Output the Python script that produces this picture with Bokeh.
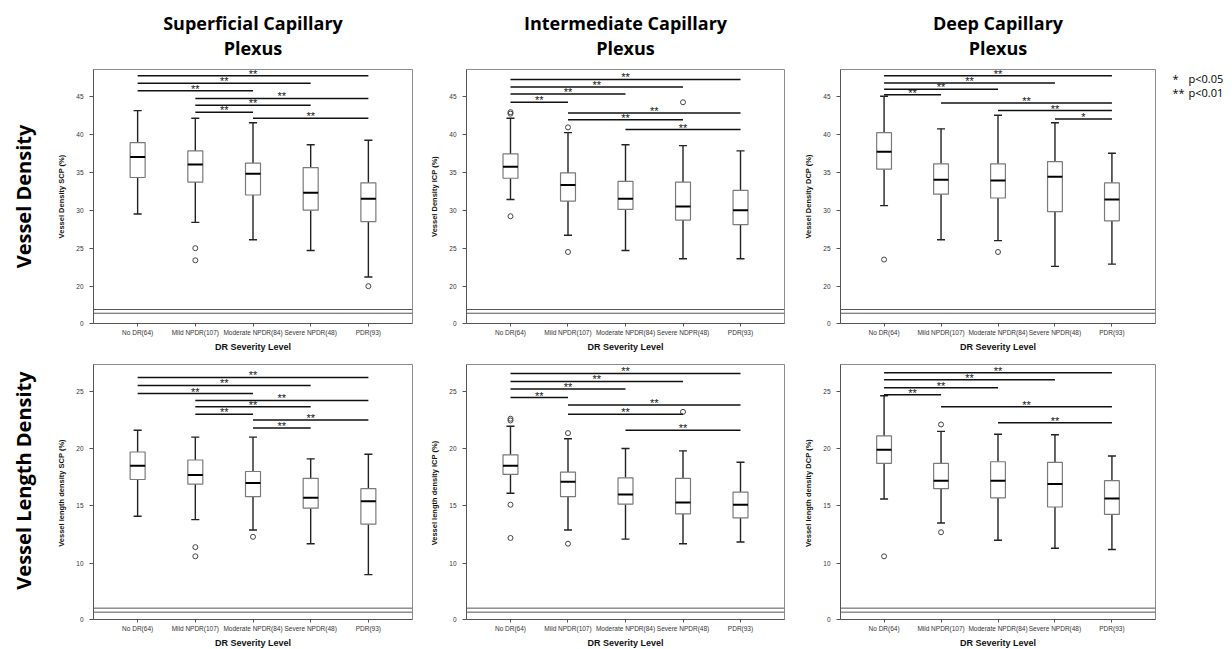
import math
from bokeh.plotting import figure
from bokeh.models import Range1d, FixedTicker, Span, Label, ColumnDataSource
from bokeh.layouts import column, row
from bokeh.transform import dodge
from bokeh.core.properties import value
from bokeh.embed import file_html
from bokeh.resources import INLINE

# ---------------- data ----------------
groups = ["No DR(64)", "Mild NPDR(107)", "Moderate NPDR(84)", "Severe NPDR(48)", "PDR(93)"]
groups_vd_icp = ["No DR(64)", "Mild NPDR(107)", "Moderate NPDR(84)", "Severe NDPR(48)", "PDR(93)"]

col_titles = ["Superficial Capillary", "Intermediate Capillary", "Deep Capillary"]
col_title_line2 = "Plexus"
row_titles = ["Vessel Density", "Vessel Length Density"]
x_title = "DR Severity Level"
legend_marks = ["*", "**"]
legend_texts = ["p<0.05", "p<0.01"]

# Vessel density, SCP  (lower whisker, Q1, median, Q3, upper whisker per group)
vd_scp_low = [29.5, 28.4, 26.1, 24.7, 21.2]
vd_scp_q1 = [34.3, 33.7, 32.0, 30.0, 28.5]
vd_scp_med = [37.0, 36.0, 34.8, 32.3, 31.5]
vd_scp_q3 = [38.9, 37.8, 36.2, 35.6, 33.6]
vd_scp_high = [43.1, 42.1, 41.5, 38.6, 39.2]
vd_scp_out_grp = [1, 1, 4]
vd_scp_out_val = [25.0, 23.4, 20.0]
vd_scp_sig_a = [0, 0, 0, 1, 1, 1, 2]
vd_scp_sig_b = [4, 3, 2, 4, 3, 2, 4]
vd_scp_sig_y = [47.7, 46.7, 45.7, 44.7, 43.8, 42.9, 42.1]
vd_scp_sig_txt = ["**", "**", "**", "**", "**", "**", "**"]

# Vessel density, ICP
vd_icp_low = [31.4, 26.7, 24.7, 23.6, 23.6]
vd_icp_q1 = [34.2, 31.2, 30.1, 28.7, 28.1]
vd_icp_med = [35.7, 33.3, 31.5, 30.5, 30.0]
vd_icp_q3 = [37.4, 34.9, 33.8, 33.7, 32.6]
vd_icp_high = [42.1, 40.2, 38.6, 38.5, 37.8]
vd_icp_out_grp = [0, 0, 0, 1, 1, 3]
vd_icp_out_val = [42.9, 42.7, 29.2, 40.9, 24.5, 44.2]
vd_icp_sig_a = [0, 0, 0, 0, 1, 1, 2]
vd_icp_sig_b = [4, 3, 2, 1, 4, 3, 4]
vd_icp_sig_y = [47.2, 46.2, 45.3, 44.2, 42.8, 41.9, 40.6]
vd_icp_sig_txt = ["**", "**", "**", "**", "**", "**", "**"]

# Vessel density, DCP
vd_dcp_low = [30.6, 26.1, 26.0, 22.6, 22.9]
vd_dcp_q1 = [35.4, 32.1, 31.6, 29.8, 28.6]
vd_dcp_med = [37.7, 34.0, 33.9, 34.4, 31.4]
vd_dcp_q3 = [40.2, 36.1, 36.1, 36.4, 33.6]
vd_dcp_high = [45.0, 40.7, 42.5, 41.5, 37.5]
vd_dcp_out_grp = [0, 2]
vd_dcp_out_val = [23.5, 24.5]
vd_dcp_sig_a = [0, 0, 0, 0, 1, 2, 3]
vd_dcp_sig_b = [4, 3, 2, 1, 4, 4, 4]
vd_dcp_sig_y = [47.7, 46.75, 45.9, 45.2, 44.1, 43.1, 42.0]
vd_dcp_sig_txt = ["**", "**", "**", "**", "**", "**", "*"]

# Vessel length density, SCP
vld_scp_low = [14.1, 13.8, 12.9, 11.7, 9.0]
vld_scp_q1 = [17.3, 16.9, 15.8, 14.8, 13.4]
vld_scp_med = [18.5, 17.7, 17.0, 15.7, 15.4]
vld_scp_q3 = [19.7, 19.0, 18.0, 17.4, 16.5]
vld_scp_high = [21.6, 21.0, 21.0, 19.1, 19.5]
vld_scp_out_grp = [1, 1, 2]
vld_scp_out_val = [11.4, 10.6, 12.3]
vld_scp_sig_a = [0, 0, 0, 1, 1, 1, 2, 2]
vld_scp_sig_b = [4, 3, 2, 4, 3, 2, 4, 3]
vld_scp_sig_y = [26.2, 25.5, 24.8, 24.2, 23.65, 23.0, 22.5, 21.8]
vld_scp_sig_txt = ["**", "**", "**", "**", "**", "**", "**", "**"]

# Vessel length density, ICP
vld_icp_low = [16.1, 12.9, 12.1, 11.7, 11.85]
vld_icp_q1 = [17.75, 15.8, 15.15, 14.3, 13.95]
vld_icp_med = [18.5, 17.1, 16.0, 15.3, 15.1]
vld_icp_q3 = [19.45, 17.95, 17.45, 17.4, 16.2]
vld_icp_high = [21.95, 20.85, 20.0, 19.8, 18.8]
vld_icp_out_grp = [0, 0, 0, 0, 1, 1, 3]
vld_icp_out_val = [22.6, 22.45, 15.1, 12.2, 21.35, 11.7, 23.2]
vld_icp_sig_a = [0, 0, 0, 0, 1, 1, 2]
vld_icp_sig_b = [4, 3, 2, 1, 4, 3, 4]
vld_icp_sig_y = [26.55, 25.85, 25.2, 24.45, 23.8, 23.0, 21.6]
vld_icp_sig_txt = ["**", "**", "**", "**", "**", "**", "**"]

# Vessel length density, DCP
vld_dcp_low = [15.6, 13.5, 12.0, 11.3, 11.2]
vld_dcp_q1 = [18.7, 16.5, 15.7, 14.9, 14.25]
vld_dcp_med = [19.9, 17.2, 17.2, 16.9, 15.65]
vld_dcp_q3 = [21.1, 18.7, 18.85, 18.8, 17.2]
vld_dcp_high = [24.6, 21.5, 21.25, 21.2, 19.35]
vld_dcp_out_grp = [0, 1, 1]
vld_dcp_out_val = [10.6, 22.1, 12.7]
vld_dcp_sig_a = [0, 0, 0, 0, 1, 2]
vld_dcp_sig_b = [4, 3, 2, 1, 4, 4]
vld_dcp_sig_y = [26.6, 26.0, 25.3, 24.7, 23.65, 22.25]
vld_dcp_sig_txt = ["**", "**", "**", "**", "**", "**"]

y_labels = ["Vessel Density SCP (%)", "Vessel Density ICP (%)", "Vessel Density DCP (%)",
            "Vessel length density SCP  (%)", "Vessel length density ICP  (%)",
            "Vessel length density DCP  (%)"]

# axis scale (broken axis: "0" shown at the floor, break just above it)
vd_ticks = [20, 25, 30, 35, 40, 45]
vd_range = (15.09, 48.51)
vd_break = (16.44, 16.93)
vld_ticks = [10, 15, 20, 25]
vld_range = (5.09, 27.33)
vld_break = (5.73, 6.08)

# ---------------- layout / style ----------------
PAGE_W = 1232
HEADER_H = 69
LEFT_W = 40
COL_FW = [319, 318, 315]
COL_BL = [53, 42, 42]
COL_BR = [12, 14, 5]
ROW_FH = [254, 255]
ROW_BT = [0, 9]
ROW_BB = [32, 29]
ROW_LABEL_Y = [127, 139]   # label centre, px above the frame bottom
LEG_W = 72

TICK_FONT = "Liberation Sans"
TITLE_FONT = "Open Sans"
BOX_W = 0.26
CAP_W = 0.14


def make_panel(ci, ri, cats, low, q1, med, q3, high, og, ov, sa, sb, sy, st,
               ylabel, yr, yticks, brk):
    fw, fh = COL_FW[ci], ROW_FH[ri]
    p = figure(frame_width=fw, frame_height=fh, title=None,
               min_border_left=COL_BL[ci], min_border_right=COL_BR[ci],
               min_border_top=ROW_BT[ri], min_border_bottom=ROW_BB[ri],
               x_range=Range1d(-0.765, 4.765), y_range=Range1d(*yr),
               output_backend="svg", toolbar_location=None, tools="")
    p.background_fill_color = "white"
    p.border_fill_color = "white"
    p.outline_line_color = "#8c8c8c"
    p.outline_line_width = 1
    p.xgrid.visible = False
    p.ygrid.visible = False

    xs = list(range(len(cats)))
    src = ColumnDataSource(dict(x=xs, low=low, q1=q1, med=med, q3=q3, high=high))

    # whiskers
    p.segment(x0="x", y0="q3", x1="x", y1="high", source=src, line_color="#222", line_width=1.4)
    p.segment(x0="x", y0="low", x1="x", y1="q1", source=src, line_color="#222", line_width=1.4)
    # caps
    p.segment(x0=dodge("x", -CAP_W / 2), y0="high", x1=dodge("x", CAP_W / 2), y1="high",
              source=src, line_color="#222", line_width=1.4)
    p.segment(x0=dodge("x", -CAP_W / 2), y0="low", x1=dodge("x", CAP_W / 2), y1="low",
              source=src, line_color="#222", line_width=1.4)
    # boxes
    p.vbar(x="x", bottom="q1", top="q3", width=BOX_W, source=src,
           fill_color="white", line_color="#7a7a7a", line_width=1.2)
    # medians
    p.segment(x0=dodge("x", -BOX_W / 2), y0="med", x1=dodge("x", BOX_W / 2), y1="med",
              source=src, line_color="black", line_width=2)
    # outliers
    p.scatter(x=og, y=ov, marker="circle", size=5, fill_color=None,
              line_color="#444", line_width=1)

    # significance bars
    mids = [(a + b) / 2 for a, b in zip(sa, sb)]
    sig = ColumnDataSource(dict(a=sa, b=sb, y=sy, m=mids, t=st))
    p.segment(x0="a", y0="y", x1="b", y1="y", source=sig, line_color="#111", line_width=1.5)
    p.text(x="m", y="y", text="t", source=sig, text_align="center", text_baseline="middle",
           text_font=value(TICK_FONT), text_font_size="11px", text_color="#111", y_offset=-2)

    # axis break
    for loc in brk:
        p.add_layout(Span(location=loc, dimension="width", line_color="#555", line_width=1))

    # axes
    p.xaxis.ticker = FixedTicker(ticks=xs)
    p.xaxis.major_label_overrides = {i: c for i, c in enumerate(cats)}
    p.yaxis.ticker = FixedTicker(ticks=[yr[0]] + yticks)
    p.yaxis.major_label_overrides = {yr[0]: "0"}
    for ax in (p.xaxis[0], p.yaxis[0]):
        ax.axis_line_color = "#555"
        ax.major_tick_line_color = "#555"
        ax.minor_tick_line_color = None
        ax.major_tick_in = 0
        ax.major_label_text_font = TICK_FONT
        ax.major_label_text_font_size = "6.5px"
        ax.major_label_text_color = "#333"
        ax.axis_label_text_font = TICK_FONT
        ax.axis_label_text_font_style = "bold"
        ax.axis_label_text_color = "#111"
    p.xaxis.major_tick_out = 3
    p.xaxis.major_label_standoff = 2
    p.xaxis.axis_label = x_title
    p.xaxis.axis_label_text_font_size = "9px"
    p.xaxis.axis_label_standoff = 3
    p.yaxis.major_tick_out = 4
    p.yaxis.major_label_standoff = 6
    p.yaxis.axis_label = ylabel
    p.yaxis.axis_label_text_font_size = "7.5px"
    p.yaxis.axis_label_standoff = 7
    return p


p1 = make_panel(0, 0, groups, vd_scp_low, vd_scp_q1, vd_scp_med, vd_scp_q3, vd_scp_high,
                vd_scp_out_grp, vd_scp_out_val, vd_scp_sig_a, vd_scp_sig_b, vd_scp_sig_y,
                vd_scp_sig_txt, y_labels[0], vd_range, vd_ticks, vd_break)
p2 = make_panel(1, 0, groups_vd_icp, vd_icp_low, vd_icp_q1, vd_icp_med, vd_icp_q3, vd_icp_high,
                vd_icp_out_grp, vd_icp_out_val, vd_icp_sig_a, vd_icp_sig_b, vd_icp_sig_y,
                vd_icp_sig_txt, y_labels[1], vd_range, vd_ticks, vd_break)
p3 = make_panel(2, 0, groups, vd_dcp_low, vd_dcp_q1, vd_dcp_med, vd_dcp_q3, vd_dcp_high,
                vd_dcp_out_grp, vd_dcp_out_val, vd_dcp_sig_a, vd_dcp_sig_b, vd_dcp_sig_y,
                vd_dcp_sig_txt, y_labels[2], vd_range, vd_ticks, vd_break)
p4 = make_panel(0, 1, groups, vld_scp_low, vld_scp_q1, vld_scp_med, vld_scp_q3, vld_scp_high,
                vld_scp_out_grp, vld_scp_out_val, vld_scp_sig_a, vld_scp_sig_b, vld_scp_sig_y,
                vld_scp_sig_txt, y_labels[3], vld_range, vld_ticks, vld_break)
p5 = make_panel(1, 1, groups, vld_icp_low, vld_icp_q1, vld_icp_med, vld_icp_q3, vld_icp_high,
                vld_icp_out_grp, vld_icp_out_val, vld_icp_sig_a, vld_icp_sig_b, vld_icp_sig_y,
                vld_icp_sig_txt, y_labels[4], vld_range, vld_ticks, vld_break)
p6 = make_panel(2, 1, groups, vld_dcp_low, vld_dcp_q1, vld_dcp_med, vld_dcp_q3, vld_dcp_high,
                vld_dcp_out_grp, vld_dcp_out_val, vld_dcp_sig_a, vld_dcp_sig_b, vld_dcp_sig_y,
                vld_dcp_sig_txt, y_labels[5], vld_range, vld_ticks, vld_break)


def blank(w, h, bt=0, bb=0):
    f = figure(frame_width=w, frame_height=h, title=None,
               min_border_left=0, min_border_right=0, min_border_top=bt, min_border_bottom=bb,
               x_range=Range1d(0, 1), y_range=Range1d(0, 1),
               x_axis_location=None, y_axis_location=None,
               output_backend="svg", toolbar_location=None, tools="")
    f.outline_line_color = None
    f.background_fill_color = "white"
    f.border_fill_color = "white"
    f.xgrid.visible = False
    f.ygrid.visible = False
    return f


# header with two-line column titles, centred over each panel frame
header = blank(PAGE_W, HEADER_H)
left_edge = LEFT_W
for ci in range(3):
    cx = left_edge + COL_BL[ci] + COL_FW[ci] / 2
    for text, yy in ((col_titles[ci], HEADER_H - 22), (col_title_line2, HEADER_H - 47)):
        header.add_layout(Label(x=cx, y=yy, x_units="screen", y_units="screen",
                                text=text, text_align="center", text_baseline="middle",
                                text_font=TITLE_FONT, text_font_style="bold",
                                text_font_size="18px", text_color="black"))
    left_edge += COL_BL[ci] + COL_FW[ci] + COL_BR[ci]

# row labels (rotated), in narrow strips left of the first column
row_strips = []
for ri in range(2):
    s = blank(LEFT_W, ROW_FH[ri], bt=ROW_BT[ri], bb=ROW_BB[ri])
    s.add_layout(Label(x=23, y=ROW_LABEL_Y[ri], x_units="screen", y_units="screen",
                       text=row_titles[ri], angle=math.pi / 2, text_align="center",
                       text_baseline="middle", text_font=TITLE_FONT, text_font_style="bold",
                       text_font_size="20px", text_color="black"))
    row_strips.append(s)

# significance legend (to the right of the top-right panel)
leg = blank(LEG_W, ROW_FH[0], bt=ROW_BT[0], bb=ROW_BB[0])
for k in range(2):
    yy = ROW_FH[0] - 9 - 14 * k
    leg.add_layout(Label(x=12, y=yy, x_units="screen", y_units="screen",
                         text=legend_marks[k], text_align="left", text_baseline="middle",
                         text_font=TITLE_FONT, text_font_size="11px", text_color="black"))
    leg.add_layout(Label(x=28, y=yy, x_units="screen", y_units="screen",
                         text=legend_texts[k], text_align="left", text_baseline="middle",
                         text_font=TITLE_FONT, text_font_size="11px", text_color="black"))

layout = column(header,
                row(row_strips[0], p1, p2, p3, leg),
                row(row_strips[1], p4, p5, p6))
open("out.html", "w").write(file_html(layout, INLINE))
